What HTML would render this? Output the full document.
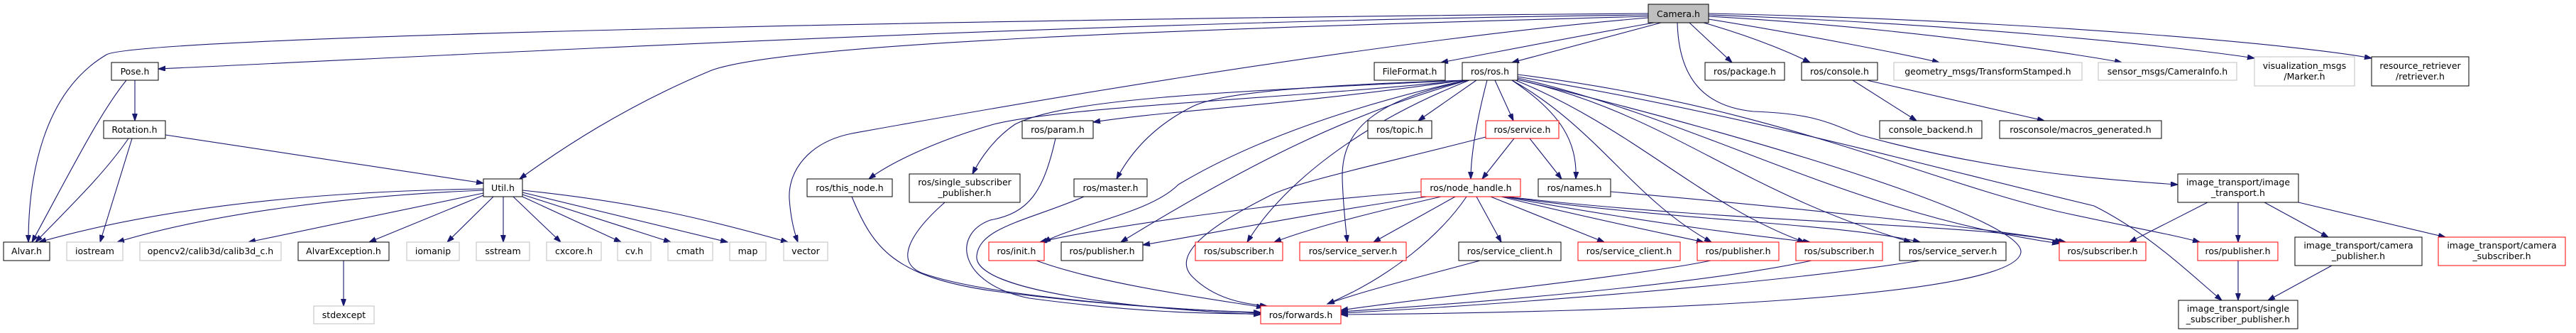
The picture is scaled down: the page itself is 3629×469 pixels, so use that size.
<!DOCTYPE html>
<html><head><meta charset="utf-8"><style>
html,body{margin:0;padding:0;background:#fff;width:3629px;height:469px;overflow:hidden}
svg{display:block}
text{font-family:"DejaVu Sans","Liberation Sans",sans-serif;font-size:12.5px;fill:#000;text-anchor:middle}
.e{fill:none;stroke:#191970;stroke-width:1.1;marker-end:url(#a)}
.b{fill:#fff;stroke:#000;stroke-width:1}
.r{fill:#fff;stroke:#ff0000;stroke-width:1}
.g{fill:#fff;stroke:#bfbfbf;stroke-width:1}
</style></head><body>
<svg width="3629" height="469" viewBox="0 0 3629 469" xmlns="http://www.w3.org/2000/svg">
<defs><marker id="a" markerUnits="userSpaceOnUse" markerWidth="11" markerHeight="8" refX="10" refY="3.5" orient="auto"><path d="M0,0 L10,3.5 L0,7 z" fill="#191970" stroke="#191970"/></marker></defs>
<g>
<path class="e" d="M2322,19 C1500,25 200,50 150,77 C60,130 40,250 40,341"/>
<path class="e" d="M2322,21 C1500,30 600,80 223,97"/>
<path class="e" d="M2322,23 C1700,40 1100,60 1000,100 C880,150 790,210 732,252"/>
<path class="e" d="M2322,25 C1900,60 1300,170 1200,188 C1140,200 1110,240 1112,280 C1114,310 1120,330 1124,341"/>
<path class="e" d="M2330,32 C2200,55 2100,75 2030,88"/>
<path class="e" d="M2340,32 L2130,88"/>
<path class="e" d="M2380,32 L2440,88"/>
<path class="e" d="M2400,32 C2480,55 2530,78 2550,88"/>
<path class="e" d="M2407,27 C2550,50 2700,80 2732,88"/>
<path class="e" d="M2407,23 C2700,40 2950,80 2989,88"/>
<path class="e" d="M2407,21 C2800,35 3100,70 3176,82"/>
<path class="e" d="M2407,19 C2900,30 3250,65 3341,82"/>
<path class="e" d="M2363,32 C2365,110 2400,150 2470,157 C2560,160 2580,175 2620,190 C2800,240 2950,252 3068,260"/>
<path class="e" d="M2065,113 C1800,140 1500,150 1400,175 C1330,195 1260,225 1224,252"/>
<path class="e" d="M2065,113 C1700,130 1500,140 1430,175 C1400,195 1380,225 1370,245"/>
<path class="e" d="M2062,113 C1800,150 1650,155 1540,172"/>
<path class="e" d="M2065,113 C1850,120 1720,130 1680,150 C1620,180 1590,220 1573,252"/>
<path class="e" d="M2065,113 C1900,150 1760,200 1660,260 C1620,300 1520,315 1470,341"/>
<path class="e" d="M2068,113 C1900,160 1760,230 1579,341"/>
<path class="e" d="M2070,113 C1900,180 1800,270 1757,341"/>
<path class="e" d="M2070,113 C1940,140 1890,180 1891,250 C1892,290 1896,320 1898,341"/>
<path class="e" d="M2080,113 L1998,170"/>
<path class="e" d="M2106,113 L2132,170"/>
<path class="e" d="M2095,113 C2080,170 2072,220 2072,252"/>
<path class="e" d="M2130,113 C2200,160 2222,200 2220,252"/>
<path class="e" d="M2130,113 C2250,180 2300,280 2411,341"/>
<path class="e" d="M2135,113 C2300,180 2400,290 2542,341"/>
<path class="e" d="M2137,112 C2350,160 2450,270 2692,341"/>
<path class="e" d="M2138,110 C2400,170 2600,300 2901,343"/>
<path class="e" d="M2138,105 C2500,150 2700,250 2900,298 C3000,320 3060,330 3099,341"/>
<path class="e" d="M2138,108 C2450,160 2700,230 2950,290 C3030,330 3090,390 3130,423"/>
<path class="e" d="M2138,112 C2500,200 2850,310 2847,355 C2840,420 2300,440 1889,443"/>
<path class="e" d="M2133,195 L2088,252"/>
<path class="e" d="M2155,195 L2200,252"/>
<path class="e" d="M2093,193 C1950,230 1830,255 1790,275 C1700,320 1650,360 1680,390 C1710,420 1750,428 1785,431"/>
<path class="e" d="M2002,270 C1800,285 1550,320 1465,341"/>
<path class="e" d="M2010,277 C1850,300 1700,330 1610,345"/>
<path class="e" d="M2030,277 C1930,300 1850,320 1795,341"/>
<path class="e" d="M2050,277 L1935,341"/>
<path class="e" d="M2080,277 L2115,341"/>
<path class="e" d="M2100,277 L2260,341"/>
<path class="e" d="M2115,277 C2250,310 2350,330 2400,341"/>
<path class="e" d="M2118,277 C2300,310 2450,330 2550,341"/>
<path class="e" d="M2120,277 C2350,310 2600,315 2705,341"/>
<path class="e" d="M2122,277 C2450,315 2800,315 2905,341"/>
<path class="e" d="M2066,277 C2030,330 1960,390 1870,428"/>
<path class="e" d="M2269,270 C2500,290 2800,320 2910,341"/>
<path class="e" d="M1460,367 C1550,400 1700,420 1780,433"/>
<path class="e" d="M1200,277 C1230,350 1260,390 1400,410 C1550,430 1700,438 1776,440"/>
<path class="e" d="M1331,285 C1280,330 1260,370 1300,385 C1400,420 1650,435 1776,441"/>
<path class="e" d="M1487,195 C1470,270 1450,300 1395,310 C1340,330 1350,400 1450,420 C1600,440 1700,442 1776,442"/>
<path class="e" d="M1527,277 C1450,310 1380,320 1376,360 C1370,410 1600,435 1776,443"/>
<path class="e" d="M2085,367 C2000,390 1920,410 1870,428"/>
<path class="e" d="M2410,367 C2300,390 2000,420 1889,437"/>
<path class="e" d="M2552,367 C2400,400 2100,425 1889,439"/>
<path class="e" d="M2705,367 C2500,400 2100,430 1889,441"/>
<path class="e" d="M2610,113 L2700,170"/>
<path class="e" d="M2630,113 L2880,170"/>
<path class="e" d="M178,113 C140,160 100,240 45,341"/>
<path class="e" d="M190,113 L190,170"/>
<path class="e" d="M181,195 C150,240 110,280 50,341"/>
<path class="e" d="M186,195 L141,341"/>
<path class="e" d="M233,190 L681,258"/>
<path class="e" d="M681,266 C400,270 200,300 55,341"/>
<path class="e" d="M681,268 C500,275 300,300 165,341"/>
<path class="e" d="M681,272 L350,341"/>
<path class="e" d="M681,275 L520,341"/>
<path class="e" d="M695,277 L630,341"/>
<path class="e" d="M709,277 L709,341"/>
<path class="e" d="M723,277 L790,341"/>
<path class="e" d="M736,277 L875,341"/>
<path class="e" d="M736,274 L945,341"/>
<path class="e" d="M736,271 L1025,341"/>
<path class="e" d="M736,268 C900,285 1000,310 1110,341"/>
<path class="e" d="M484,367 L484,431"/>
<path class="e" d="M3110,285 L3000,341"/>
<path class="e" d="M3153,285 L3153,341"/>
<path class="e" d="M3190,285 L3280,334"/>
<path class="e" d="M3238,285 L3445,334"/>
<path class="e" d="M3153,367 L3153,423"/>
<path class="e" d="M3285,374 L3195,423"/>
</g>
<g>
<rect x="2322" y="6" width="85" height="26" fill="#bfbfbf" stroke="#000"/><text x="2364.5" y="24">Camera.h</text>
<rect class="b" x="157" y="88" width="66" height="25"/><text x="190" y="105">Pose.h</text>
<rect class="b" x="146" y="170" width="87" height="25"/><text x="189.5" y="187">Rotation.h</text>
<rect class="b" x="681" y="252" width="55" height="25"/><text x="708.5" y="269">Util.h</text>
<rect class="b" x="5" y="341" width="65" height="26"/><text x="37.5" y="358">Alvar.h</text>
<rect class="g" x="94" y="341" width="79" height="26"/><text x="133.5" y="358">iostream</text>
<rect class="g" x="197" y="341" width="199" height="26"/><text x="296.5" y="358">opencv2/calib3d/calib3d_c.h</text>
<rect class="b" x="420" y="341" width="128" height="26"/><text x="484" y="358">AlvarException.h</text>
<rect class="g" x="573" y="341" width="74" height="26"/><text x="610" y="358">iomanip</text>
<rect class="g" x="671" y="341" width="75" height="26"/><text x="708.5" y="358">sstream</text>
<rect class="g" x="770" y="341" width="77" height="26"/><text x="808.5" y="358">cxcore.h</text>
<rect class="g" x="870" y="341" width="47" height="26"/><text x="893.5" y="358">cv.h</text>
<rect class="g" x="941" y="341" width="63" height="26"/><text x="972.5" y="358">cmath</text>
<rect class="g" x="1028" y="341" width="51" height="26"/><text x="1053.5" y="358">map</text>
<rect class="g" x="1104" y="341" width="62" height="26"/><text x="1135" y="358">vector</text>
<rect class="g" x="442" y="431" width="85" height="25"/><text x="484.5" y="448">stdexcept</text>
<rect class="b" x="1137" y="252" width="120" height="25"/><text x="1197" y="269">ros/this_node.h</text>
<rect class="b" x="1281" y="245" width="156" height="40"/><text x="1359" y="261">ros/single_subscriber</text><text x="1359" y="276">_publisher.h</text>
<rect class="b" x="1440" y="170" width="100" height="25"/><text x="1490" y="187">ros/param.h</text>
<rect class="b" x="1513" y="252" width="103" height="25"/><text x="1564.5" y="269">ros/master.h</text>
<rect class="r" x="1393" y="341" width="78" height="26"/><text x="1432" y="358">ros/init.h</text>
<rect class="b" x="1495" y="341" width="115" height="26"/><text x="1552.5" y="358">ros/publisher.h</text>
<rect class="r" x="1684" y="341" width="123" height="26"/><text x="1745.5" y="358">ros/subscriber.h</text>
<rect class="r" x="1776" y="431" width="113" height="25"/><text x="1832.5" y="448">ros/forwards.h</text>
<rect class="b" x="1936" y="88" width="100" height="25"/><text x="1986" y="105">FileFormat.h</text>
<rect class="b" x="2060" y="88" width="78" height="25"/><text x="2099" y="105">ros/ros.h</text>
<rect class="b" x="1927" y="170" width="90" height="25"/><text x="1972" y="187">ros/topic.h</text>
<rect class="r" x="2093" y="170" width="103" height="25"/><text x="2144.5" y="187">ros/service.h</text>
<rect class="r" x="2002" y="252" width="140" height="25"/><text x="2072" y="269">ros/node_handle.h</text>
<rect class="b" x="2167" y="252" width="102" height="25"/><text x="2218" y="269">ros/names.h</text>
<rect class="r" x="1831" y="341" width="150" height="26"/><text x="1906" y="358">ros/service_server.h</text>
<rect class="b" x="2055" y="341" width="144" height="26"/><text x="2127" y="358">ros/service_client.h</text>
<rect class="r" x="2223" y="341" width="144" height="26"/><text x="2295" y="358">ros/service_client.h</text>
<rect class="r" x="2391" y="341" width="115" height="26"/><text x="2448.5" y="358">ros/publisher.h</text>
<rect class="b" x="2402" y="88" width="112" height="25"/><text x="2458" y="105">ros/package.h</text>
<rect class="b" x="2538" y="88" width="107" height="25"/><text x="2591.5" y="105">ros/console.h</text>
<rect class="g" x="2668" y="88" width="265" height="25"/><text x="2800.5" y="105">geometry_msgs/TransformStamped.h</text>
<rect class="g" x="2956" y="88" width="195" height="25"/><text x="3053.5" y="105">sensor_msgs/CameraInfo.h</text>
<rect class="b" x="2648" y="170" width="144" height="25"/><text x="2720" y="187">console_backend.h</text>
<rect class="b" x="2817" y="170" width="228" height="25"/><text x="2931" y="187">rosconsole/macros_generated.h</text>
<rect class="r" x="2530" y="341" width="122" height="26"/><text x="2591" y="358">ros/subscriber.h</text>
<rect class="b" x="2676" y="341" width="150" height="26"/><text x="2751" y="358">ros/service_server.h</text>
<rect class="r" x="2901" y="341" width="122" height="26"/><text x="2962" y="358">ros/subscriber.h</text>
<rect class="g" x="3176" y="80" width="141" height="41"/><text x="3246.5" y="97">visualization_msgs</text><text x="3246.5" y="112">/Marker.h</text>
<rect class="b" x="3341" y="80" width="137" height="41"/><text x="3409.5" y="97">resource_retriever</text><text x="3409.5" y="112">/retriever.h</text>
<rect class="b" x="3068" y="245" width="170" height="40"/><text x="3153" y="261">image_transport/image</text><text x="3153" y="276">_transport.h</text>
<rect class="r" x="3096" y="341" width="113" height="26"/><text x="3152.5" y="358">ros/publisher.h</text>
<rect class="b" x="3233" y="334" width="179" height="40"/><text x="3322.5" y="350">image_transport/camera</text><text x="3322.5" y="365">_publisher.h</text>
<rect class="r" x="3435" y="334" width="179" height="40"/><text x="3524.5" y="350">image_transport/camera</text><text x="3524.5" y="365">_subscriber.h</text>
<rect class="b" x="3069" y="423" width="168" height="40"/><text x="3153" y="439">image_transport/single</text><text x="3153" y="454">_subscriber_publisher.h</text>
</g>
</svg>
</body></html>
